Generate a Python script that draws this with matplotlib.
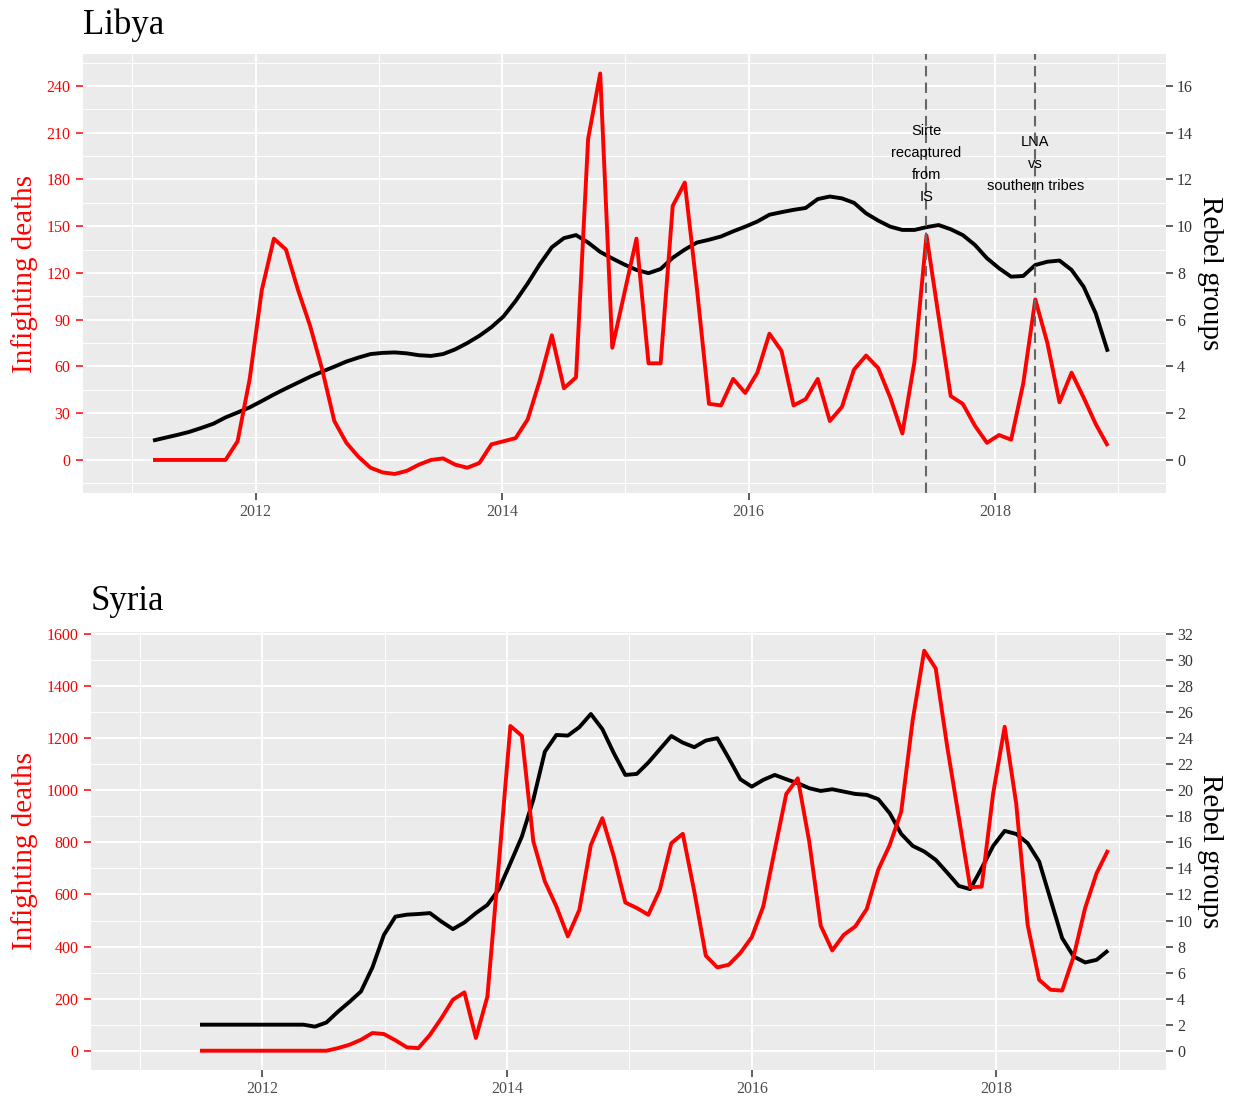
import numpy as np
import matplotlib
matplotlib.use("Agg")
import matplotlib.pyplot as plt
from matplotlib.ticker import MultipleLocator

# -------------------------------------------------
# 1. DATA (80 time bins per country)
# -------------------------------------------------
libya_start, libya_end = 2011.168, 2018.914
syria_start, syria_end = 2011.491, 2018.913

libya_deaths = [
    0, 0, 0, 0, 0, 0, 0, 12, 52, 109,
    142, 135, 109, 86, 58, 25, 11, 2, -5, -8,
    -9, -7, -3, 0, 1, -3, -5, -2, 10, 12,
    14, 26, 51, 80, 46, 53, 206, 248, 72, 107,
    142, 62, 62, 163, 178, 110, 36, 35, 52, 43,
    56, 81, 70, 35, 39, 52, 25, 34, 58, 67,
    59, 40, 17, 63, 144, 92, 41, 36, 22, 11,
    16, 13, 49, 103, 75, 37, 56, 40, 23, 9,
]
libya_groups = [
    0.83, 0.95, 1.07, 1.20, 1.37, 1.55, 1.82, 2.03, 2.25, 2.52,
    2.80, 3.06, 3.31, 3.56, 3.78, 3.99, 4.21, 4.38, 4.53, 4.58,
    4.60, 4.56, 4.48, 4.45, 4.53, 4.73, 5.00, 5.31, 5.68, 6.14,
    6.80, 7.55, 8.37, 9.10, 9.49, 9.62, 9.30, 8.90, 8.62, 8.36,
    8.13, 7.99, 8.17, 8.65, 9.00, 9.30, 9.42, 9.56, 9.78, 9.98,
    10.20, 10.49, 10.60, 10.70, 10.78, 11.16, 11.27, 11.19, 11.00, 10.55,
    10.24, 9.98, 9.84, 9.84, 9.96, 10.05, 9.87, 9.62, 9.20, 8.63,
    8.20, 7.84, 7.87, 8.34, 8.48, 8.53, 8.13, 7.41, 6.27, 4.63,
]

syria_deaths = [
    0, 0, 0, 0, 0, 0, 0, 0, 0, 0,
    0, 0, 10, 23, 42, 68, 64, 40, 13, 10,
    61, 125, 196, 224, 49, 208, 720, 1247, 1209, 803,
    650, 554, 439, 541, 790, 893, 746, 569, 548, 522,
    618, 797, 833, 611, 365, 320, 330, 375, 436, 554,
    771, 986, 1046, 803, 480, 385, 445, 477, 544, 695,
    790, 918, 1270, 1536, 1468, 1168, 899, 628, 630, 989,
    1244, 950, 483, 272, 234, 231, 362, 548, 682, 771,
]
syria_groups = [
    2.0, 2.0, 2.0, 2.0, 2.0, 2.0, 2.0, 2.0, 2.0, 2.0,
    1.85, 2.17, 3.0, 3.75, 4.55, 6.4, 8.9, 10.3, 10.45, 10.5,
    10.57, 9.92, 9.34, 9.85, 10.57, 11.2, 12.4, 14.4, 16.45, 19.3,
    22.97, 24.25, 24.2, 24.85, 25.86, 24.7, 22.85, 21.18, 21.26, 22.13,
    23.15, 24.17, 23.66, 23.31, 23.82, 24.0, 22.46, 20.85, 20.28, 20.8,
    21.18, 20.85, 20.54, 20.16, 19.95, 20.08, 19.9, 19.72, 19.65, 19.32,
    18.24, 16.65, 15.73, 15.3, 14.66, 13.68, 12.66, 12.41, 14.02, 15.73,
    16.88, 16.65, 15.94, 14.53, 11.59, 8.65, 7.24, 6.78, 6.98, 7.7,
]

libya_events = [2017.441, 2018.325]
libya_event_labels = ["Sirte\nrecaptured\nfrom\nIS", "LNA\nvs\nsouthern tribes"]
event_label_y = 190

# -------------------------------------------------
# 2. STYLE
# -------------------------------------------------
plt.rcParams["font.family"] = "serif"
plt.rcParams["font.serif"] = ["Liberation Serif", "DejaVu Serif"]

W, H = 1238, 1099
BG = "#EBEBEB"
TEXT_GREY = "#4D4D4D"
TICK_GREY = "#333333"
XLIM = (2010.6, 2019.386)

fig = plt.figure(figsize=(W / 100, H / 100), dpi=100)


def px_rect(left, top, right, bottom):
    return [left / W, 1 - bottom / H, (right - left) / W, (bottom - top) / H]


# -------------------------------------------------
# 3. PANEL FUNCTION
# -------------------------------------------------
def draw_panel(rect, title, title_x, title_base, start, end, deaths, groups,
               dlim, dstep, ratio, gstep, events=(), event_labels=()):
    t = np.linspace(start, end, len(deaths))

    # base axes: background, grid and the deaths scale on the left
    ax = fig.add_axes(rect)
    ax.set_facecolor(BG)
    ax.set_xlim(XLIM)
    ax.set_ylim(dlim)
    ax.xaxis.set_major_locator(MultipleLocator(2))
    ax.xaxis.set_minor_locator(MultipleLocator(1))
    ax.xaxis.set_major_formatter("{x:.0f}")
    ax.yaxis.set_major_locator(MultipleLocator(dstep))
    ax.yaxis.set_minor_locator(MultipleLocator(dstep / 2))
    ax.yaxis.set_major_formatter("{x:.0f}")
    ax.grid(which="major", color="white", lw=1.4)
    ax.grid(which="minor", color="white", lw=0.7)
    ax.set_axisbelow(True)
    ax.tick_params(which="minor", length=0)
    ax.tick_params(axis="y", which="major", colors="red", labelsize=11.5,
                   length=5, width=1.1, pad=4)
    ax.tick_params(axis="x", which="major", color=TICK_GREY,
                   labelcolor=TEXT_GREY, labelsize=11.5, length=5,
                   width=1.1, pad=3)

    # rebel groups on the right scale
    axr = ax.twinx()
    axr.set_ylim(dlim[0] / ratio, dlim[1] / ratio)
    axr.yaxis.set_major_locator(MultipleLocator(gstep))
    axr.yaxis.set_major_formatter("{x:.0f}")
    axr.tick_params(axis="y", color=TICK_GREY, labelcolor="#333333",
                    labelsize=11.5, length=5, width=1.1, pad=3)
    axr.plot(t, groups, color="black", lw=2.8, solid_capstyle="butt")

    # deaths drawn on top of the black line
    axd = ax.twinx()
    axd.set_ylim(dlim)
    axd.axis("off")
    axd.plot(t, deaths, color="red", lw=2.8, solid_capstyle="butt")

    for x, label in zip(events, event_labels):
        axd.axvline(x, color="#666666", lw=1.5, dashes=(5, 3))
        axd.text(x, event_label_y, label, ha="center", va="center",
                 fontsize=10.5, family="Liberation Sans", linespacing=1.72,
                 color="black")

    for a in (ax, axr):
        for s in a.spines.values():
            s.set_visible(False)

    fig.text(title_x / W, 1 - title_base / H, title, fontsize=25,
             ha="left", va="baseline", color="black")

    top = (1 - rect[1] - rect[3]) * H
    bottom = (1 - rect[1]) * H
    mid = (top + bottom) / 2
    fig.text(25 / W, 1 - mid / H, "Infighting deaths", rotation=90,
             ha="center", va="center", fontsize=21, color="red")
    fig.text(1210 / W, 1 - mid / H, "Rebel groups", rotation=270,
             ha="center", va="center", fontsize=21, color="black")


# -------------------------------------------------
# 4. DRAW BOTH COUNTRIES
# -------------------------------------------------
draw_panel(px_rect(83, 54, 1166, 493.3), "Libya", 83, 33.5,
           libya_start, libya_end, libya_deaths, libya_groups,
           dlim=(-21.4, 260.5), dstep=30, ratio=15, gstep=2,
           events=libya_events, event_labels=libya_event_labels)

draw_panel(px_rect(91, 631.7, 1166, 1070), "Syria", 91, 609.5,
           syria_start, syria_end, syria_deaths, syria_groups,
           dlim=(-74, 1609), dstep=200, ratio=50, gstep=2)

fig.savefig("out.png", dpi=100)
